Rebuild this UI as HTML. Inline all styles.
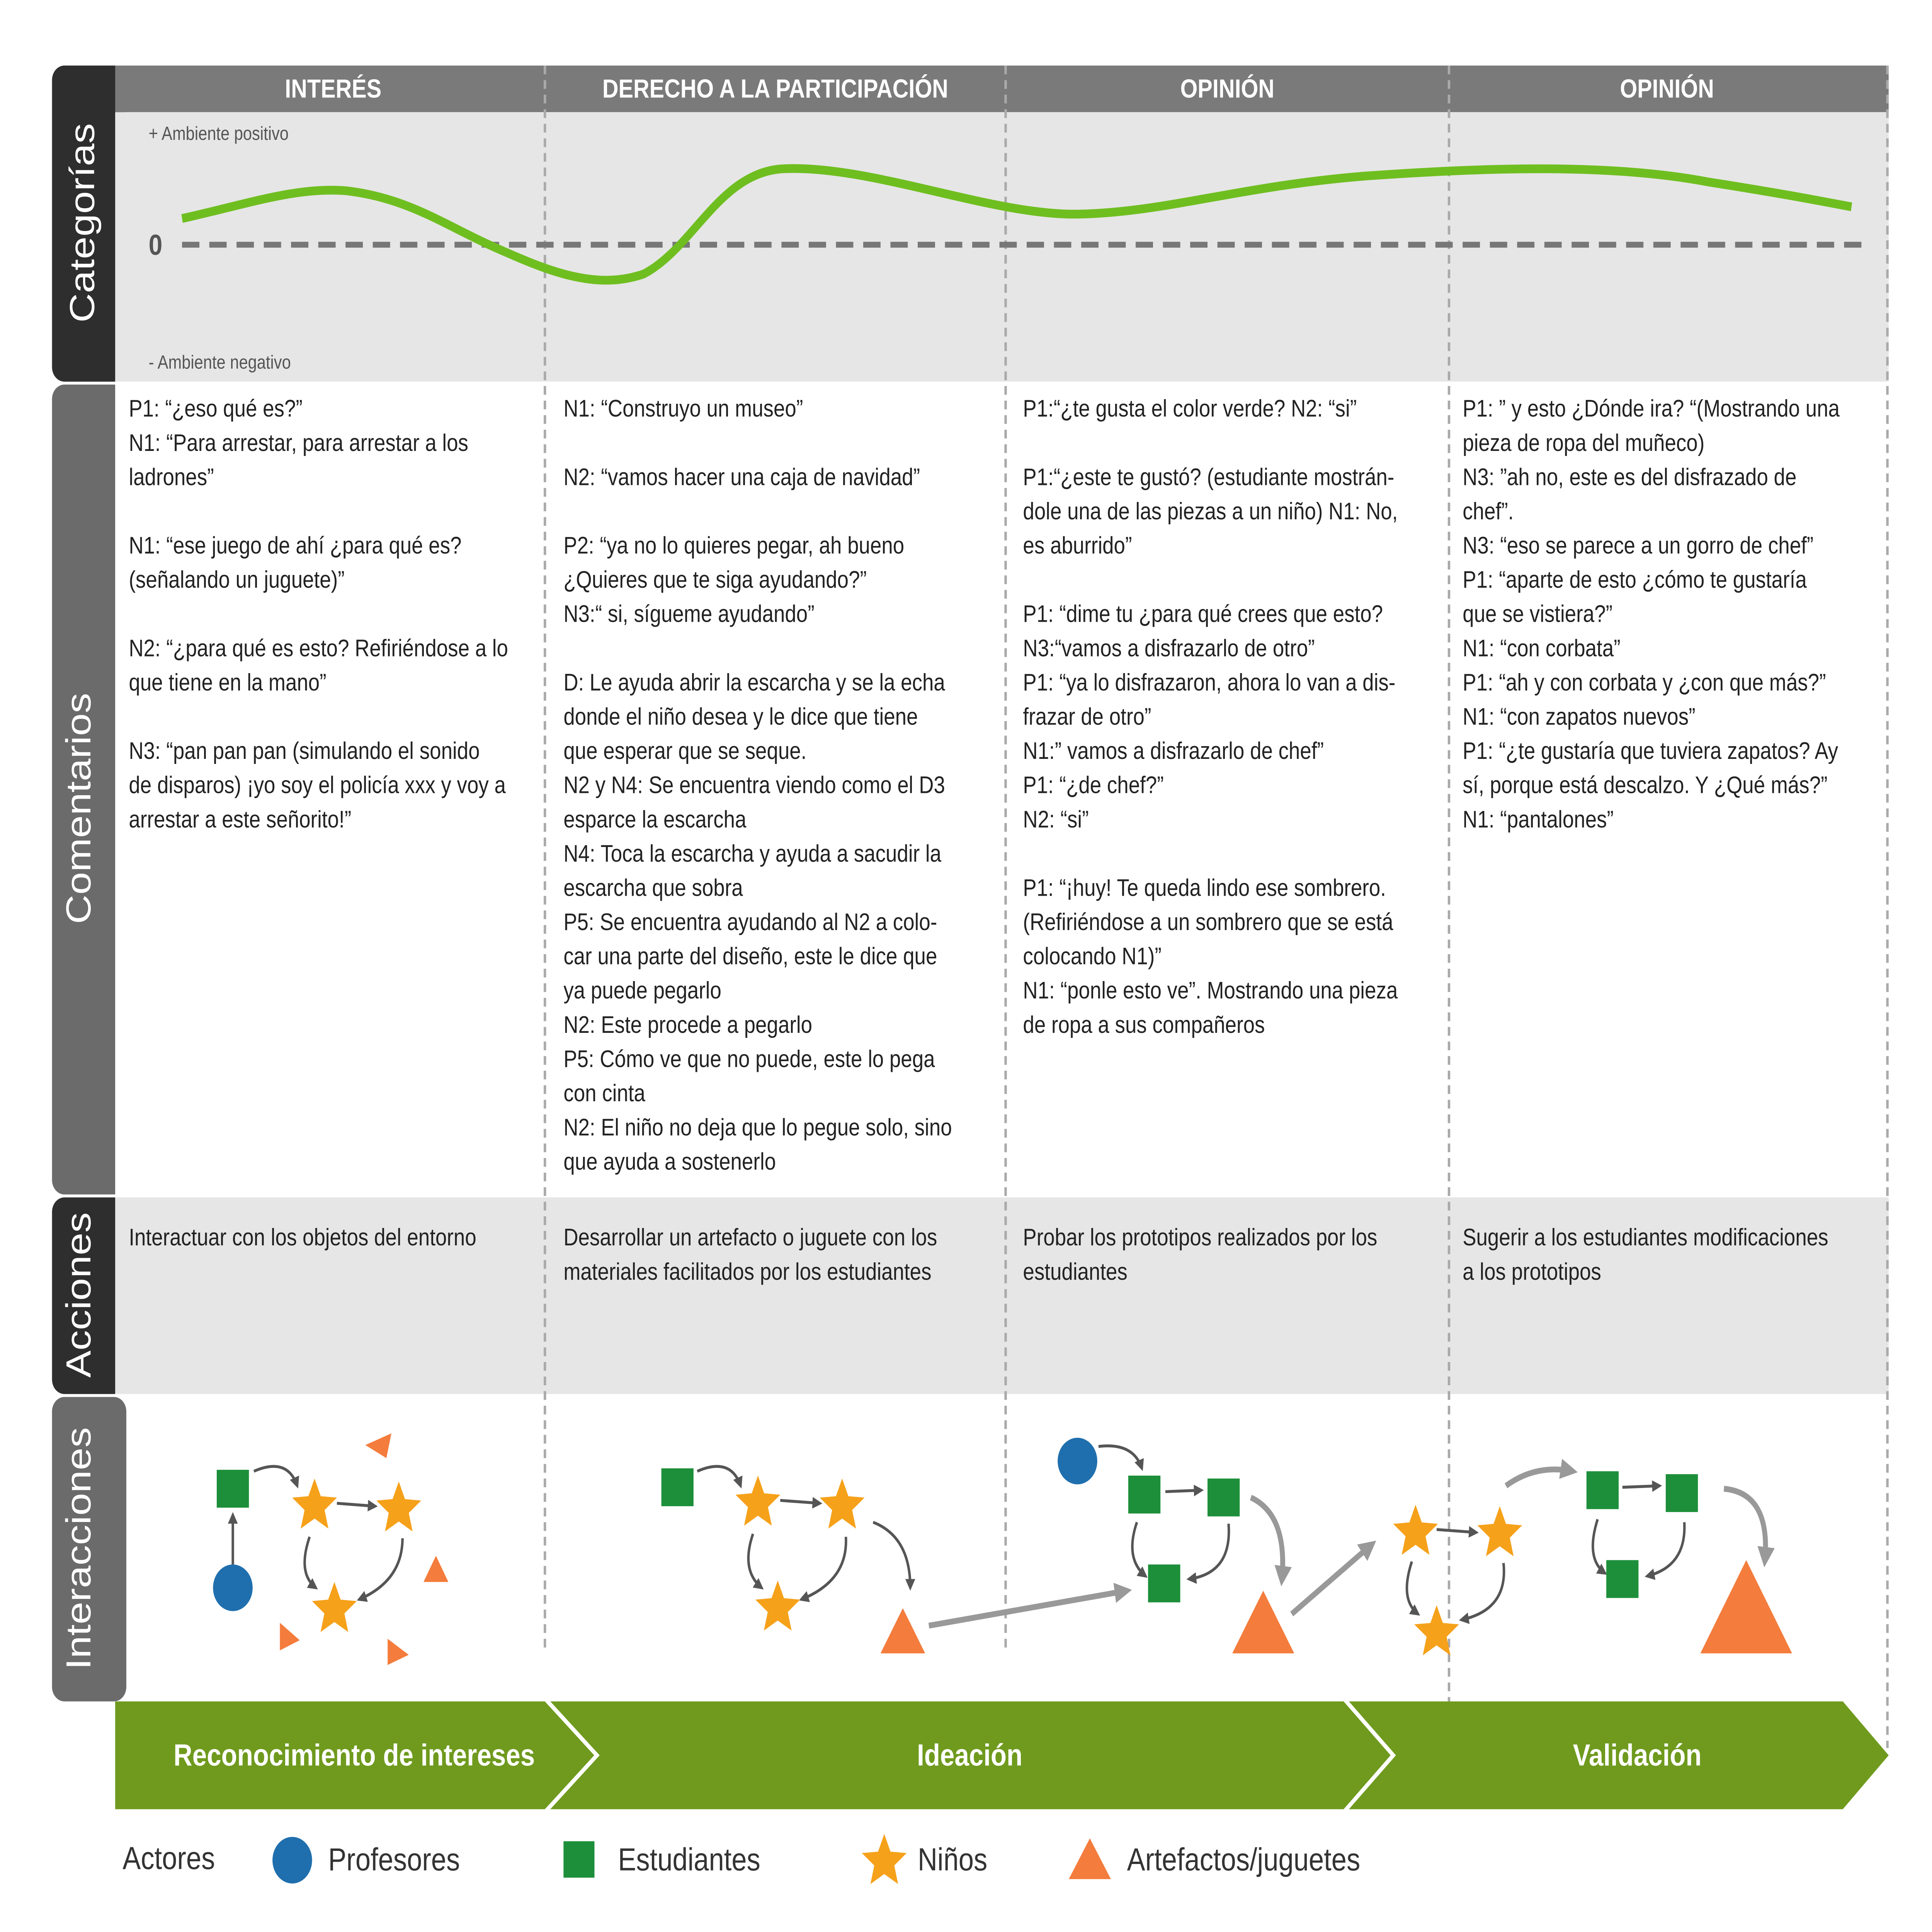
<!DOCTYPE html>
<html><head><meta charset="utf-8"><style>html,body{margin:0;padding:0;background:#fff;width:100%;height:100%;overflow:hidden}svg{display:block;position:absolute;left:0;top:0;width:100vw;height:100vh}</style></head>
<body>
<svg xmlns="http://www.w3.org/2000/svg" viewBox="0 0 1560 1326.3" preserveAspectRatio="none" font-family="Liberation Sans, sans-serif">
<defs>
<polygon id="st" points="0,-19 5,-6.88 18.07,-5.87 8.08,2.63 11.17,15.37 0,8.5 -11.17,15.37 -8.08,2.63 -18.07,-5.87 -5,-6.88" fill="#f6a11a"/>
<marker id="ah" markerWidth="8" markerHeight="8" refX="6" refY="4" orient="auto" markerUnits="userSpaceOnUse"><path d="M0,0 L8,4 L0,8 Z" fill="#555"/></marker>
<marker id="ahb" markerWidth="14" markerHeight="14" refX="10" refY="7" orient="auto" markerUnits="userSpaceOnUse"><path d="M0,0 L14,7 L0,14 Z" fill="#999"/></marker>
</defs>
<rect width="1560" height="1327" fill="#fff"/>
<rect x="42" y="45" width="60" height="217" rx="10" fill="#2e2e2e"/>
<rect x="42" y="264" width="60" height="556" rx="10" fill="#6b6b6b"/>
<rect x="42" y="822" width="60" height="135" rx="10" fill="#2e2e2e"/>
<rect x="42" y="959" width="60" height="209" rx="10" fill="#6b6b6b"/>
<g fill="#fff" font-size="28" text-anchor="middle">
<text transform="translate(76,153) rotate(-90)">Categorías</text>
<text transform="translate(73,555) rotate(-90)">Comentarios</text>
<text transform="translate(73,889) rotate(-90)">Acciones</text>
<text transform="translate(73,1063) rotate(-90)">Interacciones</text>
</g>
<rect x="93" y="45" width="1432" height="32" fill="#7a7a7a"/>
<rect x="93" y="77" width="1432" height="185" fill="#e6e6e6"/>
<rect x="93" y="262" width="1432" height="560" fill="#fff"/>
<rect x="93" y="822" width="1432" height="135" fill="#e6e6e6"/>
<g fill="#fff" font-size="18" font-weight="bold" text-anchor="middle">
<text x="269" y="67">INTERÉS</text><text x="626" y="67">DERECHO A LA PARTICIPACIÓN</text>
<text x="991" y="67">OPINIÓN</text><text x="1346" y="67">OPINIÓN</text></g>
<g stroke="#aaa" stroke-width="2" stroke-dasharray="6,4">
<line x1="440" y1="45" x2="440" y2="1135"/><line x1="812" y1="45" x2="812" y2="1135"/>
<line x1="1170" y1="45" x2="1170" y2="1168"/><line x1="1524" y1="45" x2="1524" y2="1200"/></g>
<text x="120" y="96" font-size="13" fill="#555">+ Ambiente positivo</text>
<text x="120" y="253" font-size="13" fill="#555">- Ambiente negativo</text>
<text x="120" y="175" font-size="20" font-weight="bold" fill="#555">0</text>
<line x1="147" y1="168" x2="1505" y2="168" stroke="#777" stroke-width="4" stroke-dasharray="14,8"/>
<path d="M147,150 C200,140 240,128 280,131 C330,136 360,155 400,170 C440,185 480,200 520,188 C560,170 580,120 630,116 C700,112 800,148 870,147 C940,146 1000,128 1100,121 C1200,115 1300,112 1380,125 C1440,133 1470,138 1495,142" fill="none" stroke="#6fbe20" stroke-width="6"/>
<g font-size="16.5" fill="#222">
<text x="104" y="286">P1: “¿eso qué es?”</text>
<text x="104" y="309.5">N1: “Para arrestar, para arrestar a los</text>
<text x="104" y="333">ladrones”</text>
<text x="104" y="380">N1: “ese juego de ahí ¿para qué es?</text>
<text x="104" y="403.5">(señalando un juguete)”</text>
<text x="104" y="450.5">N2: “¿para qué es esto? Refiriéndose a lo</text>
<text x="104" y="474">que tiene en la mano”</text>
<text x="104" y="521">N3: “pan pan pan (simulando el sonido</text>
<text x="104" y="544.5">de disparos) ¡yo soy el policía xxx y voy a</text>
<text x="104" y="568">arrestar a este señorito!”</text>

<text x="455" y="286">N1: “Construyo un museo”</text>
<text x="455" y="333">N2: “vamos hacer una caja de navidad”</text>
<text x="455" y="380">P2: “ya no lo quieres pegar, ah bueno</text>
<text x="455" y="403.5">¿Quieres que te siga ayudando?”</text>
<text x="455" y="427">N3:“ si, sígueme ayudando”</text>
<text x="455" y="474">D: Le ayuda abrir la escarcha y se la echa</text>
<text x="455" y="497.5">donde el niño desea y le dice que tiene</text>
<text x="455" y="521">que esperar que se seque.</text>
<text x="455" y="544.5">N2 y N4: Se encuentra viendo como el D3</text>
<text x="455" y="568">esparce la escarcha</text>
<text x="455" y="591.5">N4: Toca la escarcha y ayuda a sacudir la</text>
<text x="455" y="615">escarcha que sobra</text>
<text x="455" y="638.5">P5: Se encuentra ayudando al N2 a colo-</text>
<text x="455" y="662">car una parte del diseño, este le dice que</text>
<text x="455" y="685.5">ya puede pegarlo</text>
<text x="455" y="709">N2: Este procede a pegarlo</text>
<text x="455" y="732.5">P5: Cómo ve que no puede, este lo pega</text>
<text x="455" y="756">con cinta</text>
<text x="455" y="779.5">N2: El niño no deja que lo pegue solo, sino</text>
<text x="455" y="803">que ayuda a sostenerlo</text>

<text x="826" y="286">P1:“¿te gusta el color verde? N2: “si”</text>
<text x="826" y="333">P1:“¿este te gustó? (estudiante mostrán-</text>
<text x="826" y="356.5">dole una de las piezas a un niño) N1: No,</text>
<text x="826" y="380">es aburrido”</text>
<text x="826" y="427">P1: “dime tu ¿para qué crees que esto?</text>
<text x="826" y="450.5">N3:“vamos a disfrazarlo de otro”</text>
<text x="826" y="474">P1: “ya lo disfrazaron, ahora lo van a dis-</text>
<text x="826" y="497.5">frazar de otro”</text>
<text x="826" y="521">N1:” vamos a disfrazarlo de chef”</text>
<text x="826" y="544.5">P1: “¿de chef?”</text>
<text x="826" y="568">N2: “si”</text>
<text x="826" y="615">P1: “¡huy! Te queda lindo ese sombrero.</text>
<text x="826" y="638.5">(Refiriéndose a un sombrero que se está</text>
<text x="826" y="662">colocando N1)”</text>
<text x="826" y="685.5">N1: “ponle esto ve”. Mostrando una pieza</text>
<text x="826" y="709">de ropa a sus compañeros</text>

<text x="1181" y="286">P1: ” y esto ¿Dónde ira? “(Mostrando una</text>
<text x="1181" y="309.5">pieza de ropa del muñeco)</text>
<text x="1181" y="333">N3: ”ah no, este es del disfrazado de</text>
<text x="1181" y="356.5">chef”.</text>
<text x="1181" y="380">N3: “eso se parece a un gorro de chef”</text>
<text x="1181" y="403.5">P1: “aparte de esto ¿cómo te gustaría</text>
<text x="1181" y="427">que se vistiera?”</text>
<text x="1181" y="450.5">N1: “con corbata”</text>
<text x="1181" y="474">P1: “ah y con corbata y ¿con que más?”</text>
<text x="1181" y="497.5">N1: “con zapatos nuevos”</text>
<text x="1181" y="521">P1: “¿te gustaría que tuviera zapatos? Ay</text>
<text x="1181" y="544.5">sí, porque está descalzo. Y ¿Qué más?”</text>
<text x="1181" y="568">N1: “pantalones”</text>

<text x="104" y="855">Interactuar con los objetos del entorno</text>
<text x="455" y="855">Desarrollar un artefacto o juguete con los</text>
<text x="455" y="878.5">materiales facilitados por los estudiantes</text>
<text x="826" y="855">Probar los prototipos realizados por los</text>
<text x="826" y="878.5">estudiantes</text>
<text x="1181" y="855">Sugerir a los estudiantes modificaciones</text>
<text x="1181" y="878.5">a los prototipos</text>
</g>
<g fill="none" stroke="#555" stroke-width="2" marker-end="url(#ah)">
<path d="M188,1074 L188,1040"/><path d="M205,1010 Q232,1000 240,1020"/><path d="M272,1032 L303,1034"/>
<path d="M250,1055 Q240,1080 255,1090"/><path d="M325,1056 Q325,1085 290,1098"/>
<path d="M563,1010 Q590,1000 598,1020"/><path d="M630,1030 L662,1032"/>
<path d="M608,1053 Q598,1078 615,1090"/><path d="M683,1055 Q685,1085 647,1098"/><path d="M705,1045 Q735,1055 735,1090"/>
<path d="M887,993 Q915,990 922,1008"/><path d="M941,1024 L970,1023"/><path d="M918,1045 Q908,1070 925,1082"/><path d="M992,1046 Q995,1080 960,1084"/>
<path d="M1160,1050 L1192,1052"/><path d="M1140,1072 Q1130,1098 1145,1108"/><path d="M1214,1073 Q1218,1105 1180,1112"/>
<path d="M1310,1021 L1340,1020"/><path d="M1290,1043 Q1280,1070 1296,1080"/><path d="M1360,1045 Q1362,1075 1330,1082"/>
</g>
<g fill="none" stroke="#999" stroke-width="4" marker-end="url(#ahb)">
<path d="M750,1116 L910,1092"/><path d="M1010,1028 Q1040,1040 1035,1085"/><path d="M1043,1108 L1108,1060"/>
<path d="M1216,1020 Q1240,1005 1270,1010"/><path d="M1392,1022 Q1430,1025 1425,1072"/>
</g>
<g fill="#1d8f3a">
<rect x="175" y="1009" width="26" height="26"/><rect x="534" y="1008" width="26" height="26"/>
<rect x="911" y="1013" width="26" height="26"/><rect x="975" y="1015" width="26" height="26"/><rect x="927" y="1074" width="26" height="26"/>
<rect x="1281" y="1010" width="26" height="26"/><rect x="1345" y="1012" width="26" height="26"/><rect x="1297" y="1071" width="26" height="26"/>
</g>
<g fill="#1f6fae"><circle cx="188" cy="1090" r="16"/><circle cx="870" cy="1003" r="16"/></g>
<use href="#st" x="254" y="1034"/><use href="#st" x="322" y="1036"/><use href="#st" x="270" y="1105"/>
<use href="#st" x="612" y="1032"/><use href="#st" x="680" y="1034"/><use href="#st" x="628" y="1104"/>
<use href="#st" x="1143" y="1052"/><use href="#st" x="1211" y="1053"/><use href="#st" x="1160" y="1121"/>
<g fill="#f47c3c">
<polygon points="295,992 316,984 312,1001"/><polygon points="352,1068 362,1086 342,1086"/>
<polygon points="226,1114 242,1126 226,1133"/><polygon points="313,1125 330,1136 313,1143"/>
<polygon points="729,1104 747,1135 711,1135"/>
<polygon points="1020,1092 1045,1135 995,1135"/>
<polygon points="1410,1071 1447,1135 1373,1135"/>
</g>
<polygon points="93,1168 1488,1168 1525,1205 1488,1242 93,1242" fill="#6f9a1e"/>
<g fill="none" stroke="#fff" stroke-width="3"><polyline points="440,1166 482,1205 440,1244"/><polyline points="1085,1166 1125,1205 1085,1244"/></g>
<g fill="#fff" font-size="21" font-weight="bold" text-anchor="middle">
<text x="286" y="1212">Reconocimiento de intereses</text><text x="783" y="1212">Ideación</text><text x="1322" y="1212">Validación</text></g>
<g font-size="22" fill="#333">
<text x="99" y="1283">Actores</text><text x="265" y="1284">Profesores</text><text x="499" y="1284">Estudiantes</text><text x="741" y="1284">Niños</text><text x="910" y="1284">Artefactos/juguetes</text></g>
<circle cx="236" cy="1277" r="16" fill="#1f6fae"/>
<rect x="455" y="1264" width="25" height="25" fill="#1d8f3a"/>
<use href="#st" x="714" y="1278"/>
<polygon points="880,1262 897,1290 863,1290" fill="#f47c3c"/>
</svg>
</body></html>
